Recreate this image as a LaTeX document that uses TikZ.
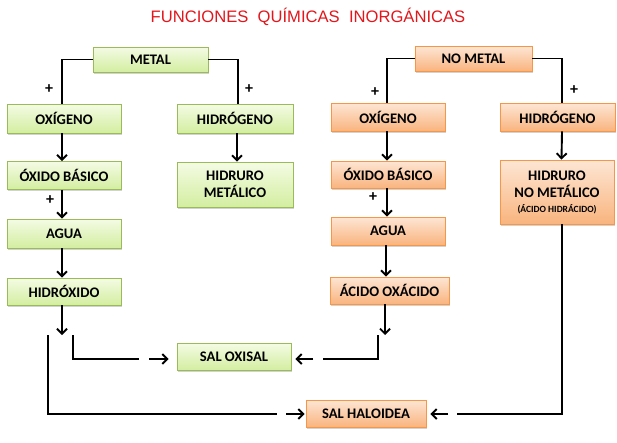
\documentclass[tikz,border=0pt]{standalone}
\usepackage{fontspec}
\setmainfont{Carlito}
\newfontfamily\titlefont{Liberation Sans}
\usetikzlibrary{arrows.meta,shadows,calc}
\definecolor{gborder}{HTML}{9BBB59}
\definecolor{gtop}{HTML}{F4FBE4}
\definecolor{gbot}{HTML}{D3EEA0}
\definecolor{oborder}{HTML}{F79646}
\definecolor{otop}{HTML}{FDE6D4}
\definecolor{obot}{HTML}{F9B47E}
\definecolor{titlered}{HTML}{E3161C}
\begin{document}
\begin{tikzpicture}[x=1pt,y=-1pt,
  box/.style={draw, line width=0.8pt, inner sep=0pt, align=center,
    font=\fontsize{14.6}{17.5}\selectfont\bfseries,
    drop shadow={shadow xshift=1.3pt,shadow yshift=-1.6pt,opacity=0.25,fill=black!70}},
  gbox/.style={box, draw=gborder, top color=gtop, bottom color=gbot},
  obox/.style={box, draw=oborder, top color=otop, bottom color=obot},
  conn/.style={line width=1.9pt, black},
  arr/.style={conn, -{Straight Barb[length=5pt,width=10pt]}},
  plus/.style={font=\fontsize{16}{16}\selectfont\bfseries}]
\useasboundingbox[fill=white] (0,0) rectangle (617,442);

\node[font=\titlefont\fontsize{16.6}{18}\selectfont, text=titlered] (title) at (308,17)
  {FUNCIONES\ \ QUÍMICAS\ \ INORGÁNICAS};

% metal side
\node[gbox, minimum width=115pt, minimum height=25pt] (metal) at (150.5,59.5) {METAL};
\node[gbox, minimum width=114pt, minimum height=29pt] (loxi) at (64,118.5) {OXÍGENO};
\node[gbox, minimum width=114pt, minimum height=28pt] (lob) at (64,175.5) {ÓXIDO BÁSICO};
\node[gbox, minimum width=114pt, minimum height=29pt] (lagua) at (64,233.5) {AGUA};
\node[gbox, minimum width=114pt, minimum height=27pt] (lhid) at (64,291.5) {HIDRÓXIDO};
\node[gbox, minimum width=116pt, minimum height=29pt] (lhidro) at (235,118.5) {HIDRÓGENO};
\node[gbox, minimum width=116pt, minimum height=45pt] (lhm) at (235,184.5) {HIDRURO\\METÁLICO};

% no metal side
\node[obox, minimum width=117pt, minimum height=25pt] (nometal) at (473.5,58.5) {NO METAL};
\node[obox, minimum width=114pt, minimum height=28pt] (roxi) at (388,117) {OXÍGENO};
\node[obox, minimum width=114pt, minimum height=27pt] (rob) at (388,174.5) {ÓXIDO BÁSICO};
\node[obox, minimum width=114pt, minimum height=28pt] (ragua) at (388,231) {AGUA};
\node[obox, minimum width=119pt, minimum height=27pt] (rao) at (389.5,290.5) {ÁCIDO OXÁCIDO};
\node[obox, minimum width=115pt, minimum height=28pt] (rhidro) at (557.5,117) {HIDRÓGENO};
\node[obox, minimum width=114pt, minimum height=64pt] (rhnm) at (557,192)
  {HIDRURO\\NO METÁLICO\\[-3pt]{\fontsize{9.5}{11}\selectfont (ÁCIDO HIDRÁCIDO)}};

% salts
\node[gbox, minimum width=114pt, minimum height=27pt] (oxisal) at (234,356.5) {SAL OXISAL};
\node[obox, minimum width=120pt, minimum height=27pt] (haloidea) at (366,413.5) {SAL HALOIDEA};

% plus signs
\node[plus] (p1) at (49,89) {+};
\node[plus] (p2) at (249,89) {+};
\node[plus] (p3) at (50,200) {+};
\node[plus] (p4) at (375,92) {+};
\node[plus] (p5) at (574,90) {+};
\node[plus] (p6) at (373,197) {+};

% metal connectors
\draw[conn] (metal.west) -| ([xshift=-2pt]loxi.north);
\draw[conn] (metal.east) -| ([xshift=3pt]lhidro.north);
\draw[arr] ([xshift=-2pt]loxi.south) -- ([xshift=-2pt]lob.north);
\draw[arr] ([xshift=-2pt]lob.south) -- ([xshift=-2pt]lagua.north);
\draw[arr] ([xshift=-2pt]lagua.south) -- ([xshift=-2pt]lhid.north);
\draw[arr] ([xshift=2pt]lhidro.south) -- ([xshift=2pt]lhm.north);
\coordinate (lend) at (62,335);
\draw[arr] (lhid.south -| lend) -- (lend);

% no metal connectors
\draw[conn] (nometal.west) -| ([xshift=-1pt]roxi.north);
\draw[conn] (nometal.east) -| ([xshift=4.5pt]rhidro.north);
\draw[arr] ([xshift=-1pt]roxi.south) -- ([xshift=-1pt]rob.north);
\draw[arr] ([xshift=-1pt]rob.south) -- ([xshift=-1pt]ragua.north);
\draw[arr] ([xshift=-2pt]ragua.south) -- ([xshift=-2pt]rao.north -| ragua.south);
\draw[arr] ([xshift=4.5pt]rhidro.south) -- ([xshift=4.5pt]rhnm.north);
\coordinate (rend) at (385,335);
\draw[arr] (rao.south -| rend) -- (rend);

% paths to SAL OXISAL
\coordinate (a1) at (73,335);
\coordinate (a2) at (139,359);
\coordinate (a3) at (149,359);
\draw[conn] (a1) |- (a2);
\draw[arr, shorten >=8pt] (a3) -- (oxisal.west |- a3);
\coordinate (b1) at (378,335);
\coordinate (b2) at (323,359);
\coordinate (b3) at (313,359);
\draw[conn] (b1) |- (b2);
\draw[arr, shorten >=4pt] (b3) -- (oxisal.east |- b3);

% paths to SAL HALOIDEA
\coordinate (c1) at (48,335);
\coordinate (c2) at (277,414);
\coordinate (c3) at (286,414);
\draw[conn] (c1) |- (c2);
\draw[arr, shorten >=1pt] (c3) -- (haloidea.west |- c3);
\coordinate (d2) at (457,414);
\coordinate (d3) at (448,414);
\draw[conn] ([xshift=5pt]rhnm.south) |- (d2);
\draw[arr, shorten >=4pt] (d3) -- (haloidea.east |- d3);
\end{tikzpicture}
\end{document}
